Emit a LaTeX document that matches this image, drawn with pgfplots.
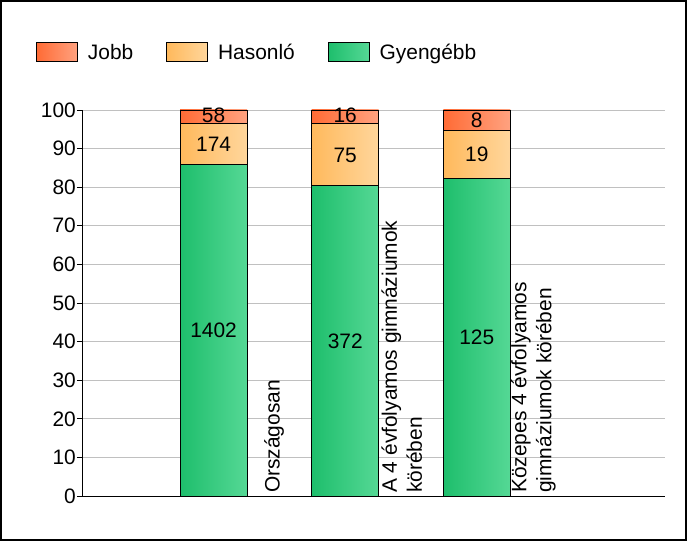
\documentclass[border=0pt]{standalone}
\usepackage{pgfplots}
\pgfplotsset{compat=1.18}
\usepackage{fontspec}
\setmainfont{Liberation Sans}
\definecolor{gL}{HTML}{1EBE6C}
\definecolor{gR}{HTML}{55D895}
\definecolor{oL}{HTML}{FFB95C}
\definecolor{oR}{HTML}{FFD69C}
\definecolor{rL}{HTML}{FF6B35}
\definecolor{rR}{HTML}{FFA280}
\definecolor{gridc}{HTML}{C0C0C0}
\newcommand{\cf}{\fontsize{21}{25}\selectfont}
\pgfplotsset{
  boxleg/.style={legend image code/.code={\draw[##1,draw=black,line width=0.8bp] (0bp,-9.5bp) rectangle (41bp,9.5bp); \path (49bp,0bp);}},
  jobb/.style={boxleg, draw=black, line width=0.8bp, left color=rL, right color=rR},
  hason/.style={boxleg, draw=black, line width=0.8bp, left color=oL, right color=oR},
  gyeng/.style={boxleg, draw=black, line width=0.8bp, left color=gL, right color=gR},
}
% cumulative shares (%) of each bar: Gyengebb, +Hasonlo, +Jobb
% counts: Orszagosan 1402/174/58, A 4 evf. 372/75/16, Kozepes 125/19/8
\begin{document}
\begin{tikzpicture}
\useasboundingbox (-82bp,-45bp) rectangle (605bp,496bp);
\draw[line width=2bp] (-81bp,-44bp) rectangle (604bp,495bp);
\begin{axis}[
  at={(0,0)}, anchor=south west,
  scale only axis, width=583bp, height=386bp,
  ybar, bar width=67bp, bar shift=0pt,
  xmin=-1, xmax=3.43, ymin=0, ymax=100,
  axis x line=bottom, axis y line=left,
  axis line style={-, line width=1bp},
  ytick={0,10,...,100},
  ymajorgrids, grid style={gridc, line width=0.8bp},
  tick align=outside, major tick length=5bp,
  ytick style={black, line width=0.8bp},
  xtick={0.46,1.43,2.43},
  xticklabels={Országosan,{A 4 évfolyamos gimnáziumok\\körében},{Közepes 4 évfolyamos\\gimnáziumok körében}},
  xtick style={draw=none},
  tick label style={font=\cf},
  /pgf/number format/assume math mode=true,
  yticklabel style={inner sep=1bp},
  xticklabel style={yshift=8bp, rotate=90, anchor=west, align=left, inner sep=0pt},
  legend style={at={(axis description cs:0,1)}, anchor=south west, xshift=-49bp, yshift=45bp,
    draw=none, fill=none, font=\cf, legend columns=3,
    /tikz/every even column/.append style={column sep=31bp}},
  legend cell align=left,
]
% Országosan
\addplot[jobb] coordinates {(0,100)};
\addplot[hason] coordinates {(0,96.45)};
\addplot[gyeng] coordinates {(0,85.80)};
\legend{Jobb,Hasonló,Gyengébb}
% A 4 évfolyamos gimnáziumok körében
\addplot[jobb, forget plot] coordinates {(1,100)};
\addplot[hason, forget plot] coordinates {(1,96.54)};
\addplot[gyeng, forget plot] coordinates {(1,80.35)};
% Közepes 4 évfolyamos gimnáziumok körében
\addplot[jobb, forget plot] coordinates {(2,100)};
\addplot[hason, forget plot] coordinates {(2,94.74)};
\addplot[gyeng, forget plot] coordinates {(2,82.24)};
\end{axis}
\begin{axis}[
  at={(0,0)}, anchor=south west,
  scale only axis, width=583bp, height=386bp,
  xmin=-1, xmax=3.43, ymin=0, ymax=100,
  hide axis,
  nodes near coords, point meta=explicit symbolic,
  every node near coord/.append style={font=\cf, anchor=center, inner sep=0pt},
]
\addplot[draw=none, mark=none] coordinates {
 (0,42.90) [1402] (0,91.12) [174] (0,98.7) [58]
 (1,40.18) [372] (1,88.36) [75] (1,98.7) [16]
 (2,41.12) [125] (2,88.49) [19] (2,97.37) [8]
};
\end{axis}
\end{tikzpicture}
\end{document}
